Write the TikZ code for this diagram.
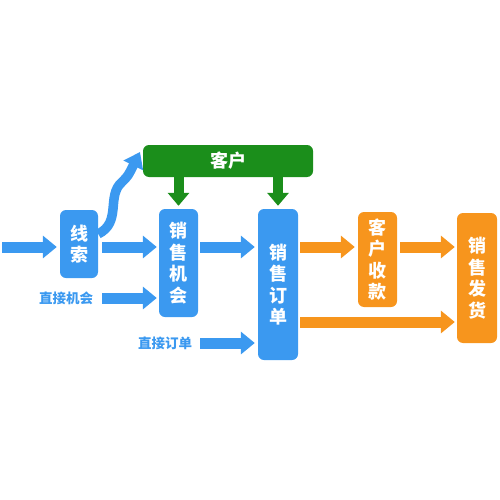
\documentclass[tikz,border=0pt]{standalone}
\usepackage{fontspec}
\setmainfont{Noto Sans CJK SC}
\usetikzlibrary{arrows.meta}
\definecolor{cblue}{HTML}{3B99F0}
\definecolor{cgreen}{HTML}{1B8E1B}
\definecolor{corange}{HTML}{F7951D}
\begin{document}
\begin{tikzpicture}[x=1pt,y=-1pt,
  box/.style={rounded corners=6pt, inner sep=0pt, align=center, text=white,
     font=\fontsize{18pt}{21.5pt}\selectfont\bfseries},
  bluebox/.style={box, fill=cblue},
  orbox/.style={box, fill=corange},
  barr/.style={draw=cblue, line width=11pt, -{Triangle[length=14pt,width=22pt]}},
  oarr/.style={draw=corange, line width=11pt, -{Triangle[length=14pt,width=22pt]}},
  garr/.style={draw=cgreen, line width=10pt, -{Triangle[length=13pt,width=21pt]}},
  lbl/.style={text=cblue, inner sep=0pt, font=\fontsize{13.5pt}{15pt}\selectfont\bfseries}
]
\useasboundingbox (0,0) rectangle (500,500);
\node[box, fill=cgreen, minimum width=170pt, minimum height=32pt, font=\fontsize{18pt}{20pt}\selectfont\bfseries] (kh) at (228,161) {客户};
\node[bluebox, minimum width=38pt, minimum height=68pt] (xs) at (79,244) {线\\索};
\node[bluebox, minimum width=39pt, minimum height=108pt] (jh) at (178.5,263) {销\\售\\机\\会};
\node[bluebox, minimum width=40pt, minimum height=151pt] (dd) at (278,284.5) {销\\售\\订\\单};
\node[orbox, minimum width=39pt, minimum height=95pt] (sk) at (377.5,259.5) {客\\户\\收\\款};
\node[orbox, minimum width=40pt, minimum height=130pt] (fh) at (477,278) {销\\售\\发\\货};
\node[lbl] (lb1) at (66,298) {直接机会};
\node[lbl] (lb2) at (165,343) {直接订单};
\coordinate (in) at (2,247);
\coordinate (ctip) at (140,152);
% blue arrows
\draw[barr, shorten >=3pt] (in) -- (xs.west |- in);
\draw[barr, shorten <=4pt, shorten >=2pt] (xs.east |- in) -- (jh.west |- in);
\draw[barr, shorten <=4pt, shorten >=2pt] (xs.east |- lb1) -- (jh.west |- lb1);
\draw[barr, shorten <=2pt, shorten >=3pt] (jh.east |- in) -- (dd.west |- in);
\draw[barr, shorten <=2pt, shorten >=3pt] (jh.east |- lb2) -- (dd.west |- lb2);
\draw[barr, line width=9.5pt, -{Triangle[length=15pt,width=21pt]}] (xs.east |- 0,234) .. controls (122,222) and (106,196) .. (122,182) .. controls (128,176) .. (ctip);
% green arrows
\draw[garr, shorten >=3pt] (kh.south -| jh) -- (jh.north);
\draw[garr, shorten >=3pt] (kh.south -| dd) -- (dd.north);
% orange arrows
\draw[oarr, shorten <=2pt, shorten >=3pt] (dd.east |- in) -- (sk.west |- in);
\draw[oarr, shorten <=3pt, shorten >=2pt] (sk.east |- in) -- (fh.west |- in);
\draw[oarr, shorten <=2pt, shorten >=2pt] (dd.east |- 0,322) -- (fh.west |- 0,322);
\end{tikzpicture}
\end{document}
